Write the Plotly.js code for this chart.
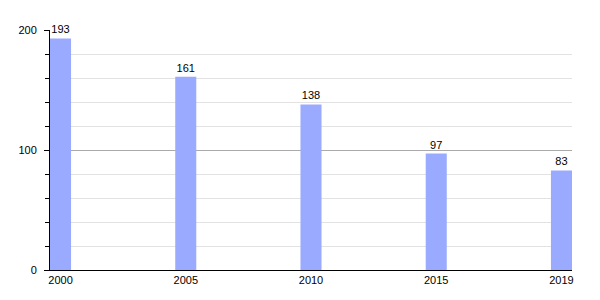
<!DOCTYPE html>
<html>
<head>
<meta charset="utf-8">
<script src="https://cdn.plot.ly/plotly-3.0.1.min.js"></script>
<style>html,body{margin:0;padding:0;background:#fff}#chart{width:600px;height:300px}</style>
</head>
<body>
<div id="chart"></div>
<script>
const years = ['2000', '2005', '2010', '2015', '2019'];
const values = [193, 161, 138, 97, 83];
const yTickVals = [0, 100, 200];
const yTickText = ['0', '100', '200'];

const trace = {
  type: 'bar',
  x: years,
  y: values,
  width: 0.168,
  marker: {color: '#99aaff', line: {width: 0}},
  text: values.map(String),
  textposition: 'outside',
  cliponaxis: false,
  textfont: {family: 'Liberation Sans, Arial, sans-serif', size: 11, color: '#000'},
  hoverinfo: 'none'
};

const layout = {
  width: 600,
  height: 300,
  margin: {l: 50, r: 28, t: 30, b: 30, pad: 0},
  paper_bgcolor: '#fff',
  plot_bgcolor: '#fff',
  showlegend: false,
  font: {family: 'Liberation Sans, Arial, sans-serif', size: 11, color: '#000'},
  xaxis: {
    type: 'category',
    range: [-0.084, 4.084],
    showgrid: false,
    showline: true,
    linecolor: '#000',
    linewidth: 1,
    ticks: '',
    tickfont: {size: 11, color: '#000'},
    zeroline: false,
    fixedrange: true
  },
  yaxis: {
    range: [0, 200],
    tickvals: yTickVals,
    ticktext: yTickText,
    showline: true,
    linecolor: '#000',
    linewidth: 1,
    ticks: 'outside',
    ticklen: 5,
    tickcolor: '#000',
    showgrid: true,
    gridcolor: '#aaaaaa',
    gridwidth: 1,
    zeroline: false,
    ticklabelstandoff: 5,
    tickfont: {size: 11, color: '#000'},
    minor: {dtick: 20, ticks: 'outside', ticklen: 4, tickcolor: '#000', showgrid: true, gridcolor: '#e2e2e2', gridwidth: 1},
    fixedrange: true
  }
};

Plotly.newPlot('chart', [trace], layout, {displayModeBar: false, staticPlot: true});
</script>
</body>
</html>
